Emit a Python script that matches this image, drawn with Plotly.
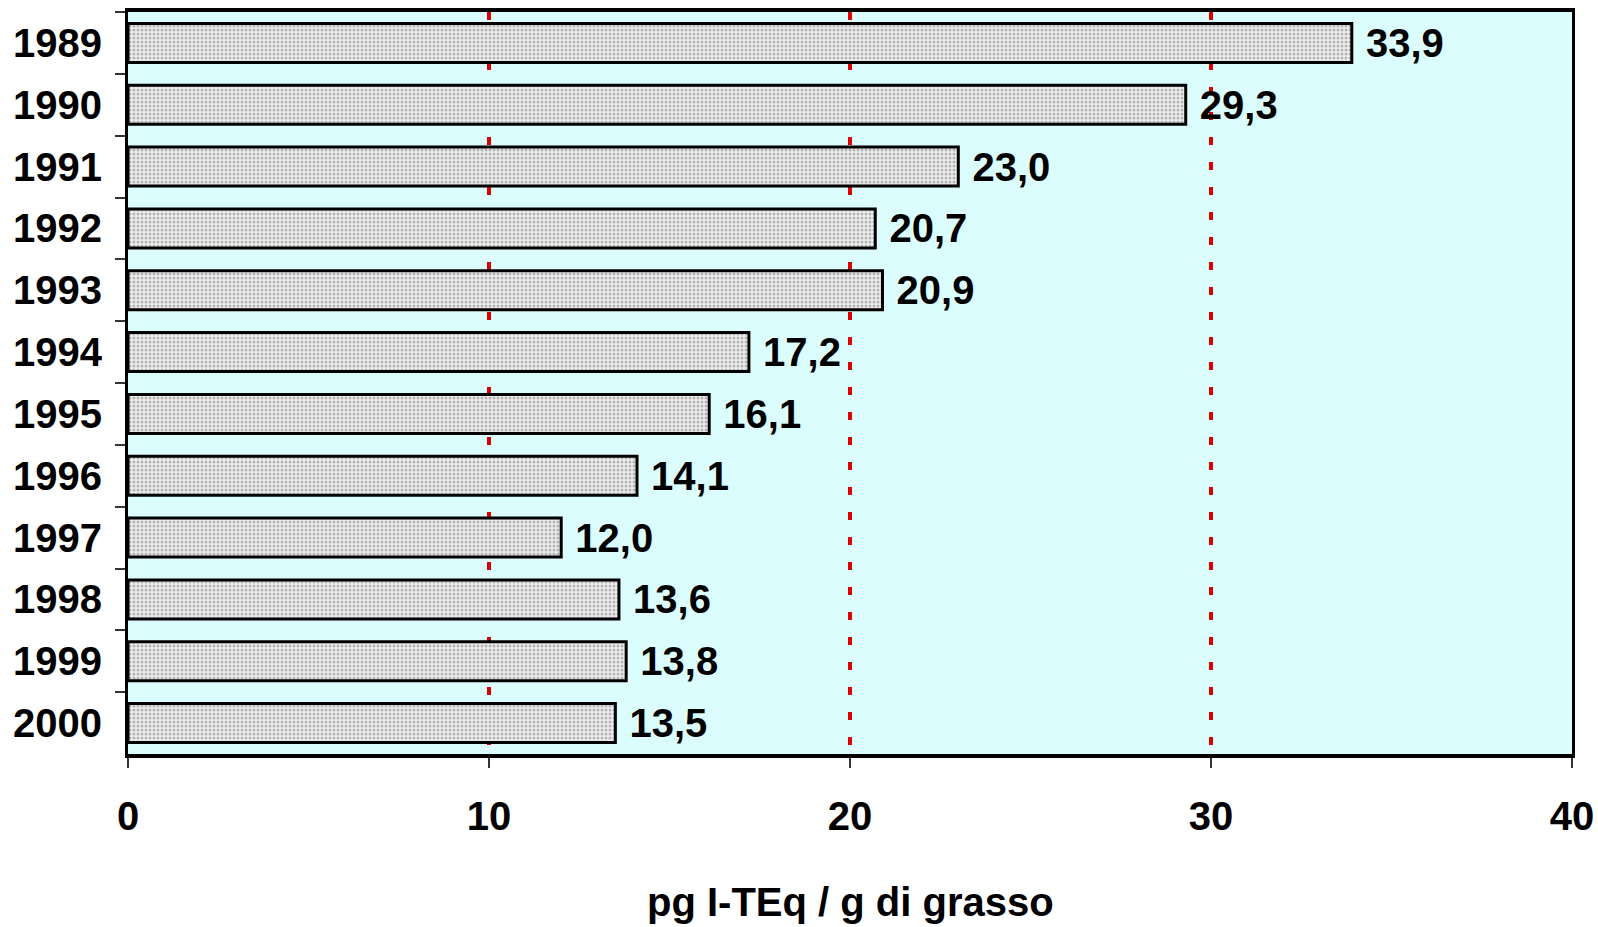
import plotly.graph_objects as go

years = ["1989", "1990", "1991", "1992", "1993", "1994", "1995", "1996", "1997", "1998", "1999", "2000"]
values = [33.9, 29.3, 23.0, 20.7, 20.9, 17.2, 16.1, 14.1, 12.0, 13.6, 13.8, 13.5]
x_ticks = [0, 10, 20, 30, 40]
x_title = "pg I-TEq / g di grasso"

FONT = "Liberation Sans, Arial, sans-serif"

fig = go.Figure()
fig.add_trace(go.Bar(
    y=years, x=values, orientation="h",
    marker=dict(
        color="#d9d9d9",
        line=dict(color="black", width=3),
        pattern=dict(shape=".", fgcolor="#7a7a7a", bgcolor="#eeeeee", size=4, solidity=0.45),
    ),
    texttemplate=" %{x:.1f}", textposition="outside",
    textfont=dict(family=FONT, size=40, color="black", weight="bold"),
    constraintext="none",
    cliponaxis=False,
    width=0.63,
))

fig.update_layout(
    width=1598, height=927,
    margin=dict(l=128, r=26, t=12, b=173),
    paper_bgcolor="white", plot_bgcolor="#dcfdfd",
    separators=",.",
    showlegend=False,
    font=dict(family=FONT, color="black"),
    annotations=[dict(
        text=x_title, xref="paper", yref="paper", x=0.5, y=-(902 - 754) / 742,
        xanchor="center", yanchor="middle", showarrow=False,
        font=dict(family=FONT, size=40, color="black", weight="bold"),
    )],
)
fig.update_xaxes(
    range=[0, 40], tickvals=x_ticks, automargin=False,
    showgrid=True, gridcolor="#dd0000", gridwidth=4, griddash="8px,17px",
    zeroline=False,
    showline=True, linecolor="black", linewidth=4, mirror=True,
    ticks="outside", ticklen=10, tickcolor="#333", tickwidth=2,
    ticklabelstandoff=14,
    tickfont=dict(family=FONT, size=40, color="black", weight="bold"),
)
fig.update_yaxes(
    categoryorder="array", categoryarray=years, autorange="reversed", automargin=False,
    showgrid=False, zeroline=False,
    showline=True, linecolor="black", linewidth=3, mirror=True,
    ticks="outside", tickson="boundaries", ticklen=10, tickcolor="#333", tickwidth=2,
    ticklabelstandoff=15,
    tickfont=dict(family=FONT, size=40, color="black", weight="bold"),
)

fig.write_html(
    "out.html",
    config={"displayModeBar": False},
    post_script="document.body.style.margin='0';document.body.style.overflow='hidden';",
)
